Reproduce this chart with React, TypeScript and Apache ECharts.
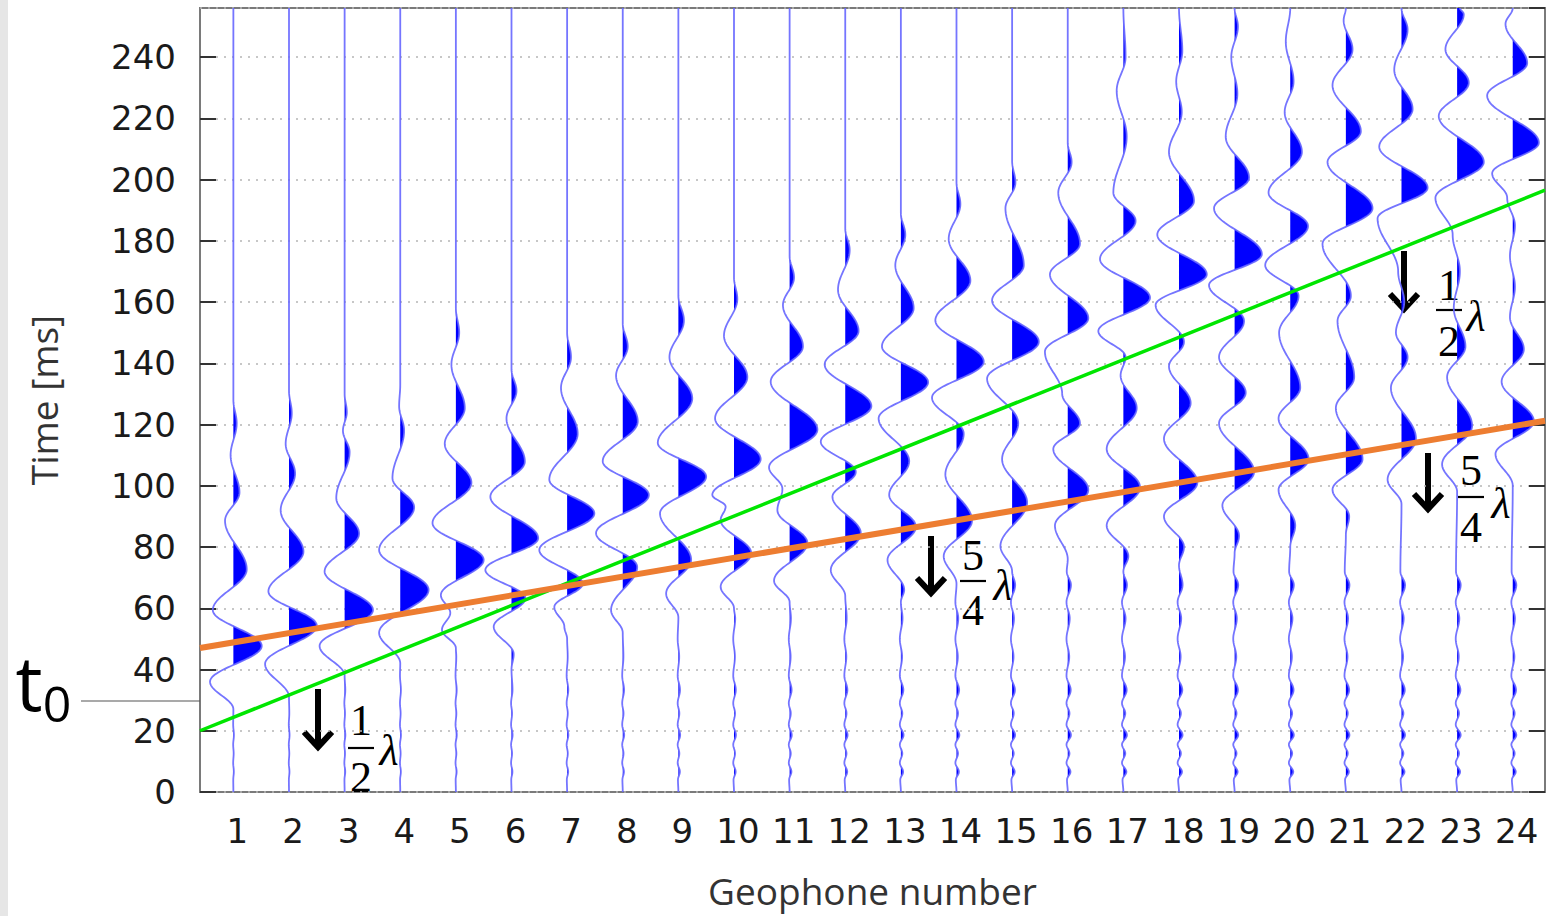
import React, { useEffect, useRef } from "react";
import * as echarts from "echarts";

// Geophone numbers (x axis)
const GEOPHONES = [1, 2, 3, 4, 5, 6, 7, 8, 9, 10, 11, 12, 13, 14, 15, 16, 17, 18, 19, 20, 21, 22, 23, 24];

// Wiggle traces: [time ms, deflection in geophone spacings] at the extrema
const T01 = [[27, 0], [36, -0.42], [47.7, 0.51], [59.4, -0.37], [72.7, 0.24], [88.6, -0.15], [97.8, 0.11], [110, -0.05], [120.4, 0.06], [128, 0]];
const T02 = [[31, 0], [41.8, -0.43], [54.3, 0.5], [65.5, -0.37], [78.5, 0.26], [92, -0.15], [104, 0.11], [113.7, -0.06], [123.7, 0.05], [131, 0]];
const T03 = [[38, 0], [47.7, -0.45], [59.4, 0.51], [72, -0.36], [84.4, 0.26], [96, -0.15], [111, 0.09], [118, -0.03], [124, 0.04], [130, 0]];
const T04 = [[42, 0], [52, -0.38], [66, 0.51], [79, -0.38], [93, 0.25], [102.5, -0.14], [118, 0.07], [126, -0.02], [133, 0]];
const T05 = [[47, 0], [53, -0.25], [58.5, -0.1], [64.3, -0.27], [75.8, 0.5], [87.8, -0.42], [101, 0.28], [113.7, -0.2], [125.4, 0.16], [139.6, -0.08], [150, 0.06], [158, 0]];
const T06 = [[40, 0], [45, 0.04], [54, -0.32], [63.3, 0.25], [72.5, -0.47], [82.9, 0.48], [96.4, -0.38], [107.9, 0.24], [122, -0.09], [131, 0.09], [138, 0]];
const T07 = [[50, 0], [54, -0.05], [60.4, -0.23], [68, 0.28], [79, -0.5], [91, 0.49], [102, -0.32], [117, 0.19], [132, -0.11], [142, 0.07], [150, 0]];
const T08 = [[52, 0], [59.4, -0.21], [73.5, 0.26], [84.5, -0.48], [97, 0.47], [108, -0.36], [121, 0.27], [136, -0.12], [145.5, 0.09], [153, 0]];
const T09 = [[57, 0], [64.8, -0.22], [75.8, 0.23], [91, -0.33], [103, 0.5], [114, -0.37], [128.5, 0.25], [142, -0.16], [154, 0.1], [162, 0]];
const T10 = [[60, 0], [67, -0.24], [78, 0.31], [88.8, -0.24], [93.2, -0.15], [97, -0.39], [108.7, 0.48], [122, -0.34], [135.5, 0.24], [149, -0.18], [161, 0.06], [168, 0]];
const T11 = [[62, 0], [69, -0.28], [81.3, 0.32], [92, -0.22], [99, -0.13], [106, -0.37], [118.3, 0.5], [134, -0.34], [145.5, 0.24], [159, -0.12], [168, 0.08], [175, 0]];
const T12 = [[64, 0], [72.5, -0.26], [84.5, 0.28], [96.4, -0.23], [104.5, 0.19], [114.4, -0.44], [126, 0.47], [139.6, -0.37], [150.5, 0.24], [164, -0.13], [177, 0.08], [184, 0]];
const T13 = [[62, 0], [66, 0.06], [75.8, -0.24], [86.6, 0.27], [97, -0.21], [108, 0.15], [122, -0.4], [133.8, 0.49], [145.5, -0.34], [158, 0.23], [172, -0.1], [182, 0.08], [189, 0]];
const T14 = [[68, 0], [77, -0.23], [88.6, 0.28], [103.7, -0.2], [117, 0.13], [128.8, -0.44], [140.5, 0.49], [154, -0.38], [167, 0.25], [180.6, -0.14], [192, 0.07], [199, 0]];
const T15 = [[72, 0], [80.3, -0.21], [94.5, 0.27], [108.7, -0.18], [120.4, 0.11], [135, -0.45], [147, 0.48], [160.5, -0.36], [172, 0.21], [190.6, -0.12], [199, 0.06], [206, 0]];
const T16 = [[76, 0], [87, -0.23], [98.7, 0.37], [112, -0.26], [120.4, 0.22], [130, -0.1], [143.8, -0.41], [154.7, 0.37], [169, -0.32], [179, 0.22], [195.7, -0.17], [205.7, 0.07], [212, 0]];
const T17 = [[72, 0], [77, 0.09], [87, -0.3], [99.5, 0.3], [112, -0.3], [125.4, 0.24], [136, -0.05], [142, 0.04], [150.5, -0.45], [161.4, 0.48], [174, -0.42], [186.5, 0.22], [195.7, -0.18], [214, 0.06], [229, -0.12], [240, 0.04], [256, 0]];
const T18 = [[74, 0], [80, 0.09], [90, -0.27], [101, 0.33], [115.4, -0.27], [127, 0.21], [139, -0.18], [147, 0.09], [159, -0.42], [169, 0.5], [182, -0.39], [193, 0.27], [209, -0.18], [222, 0.05], [232, -0.05], [242, 0.06], [256, 0]];
const T19 = [[78, 0], [83.6, 0.08], [93.6, -0.22], [104.5, 0.35], [120.4, -0.28], [130.4, 0.2], [142, -0.28], [153.8, 0.17], [165.5, -0.46], [175.6, 0.49], [190.6, -0.37], [200.6, 0.26], [214, -0.16], [228, 0.05], [240, -0.06], [250, 0.06], [256, 0]];
const T20 = [[80, 0], [87, 0.09], [98.7, -0.21], [108.7, 0.33], [122, -0.21], [132, 0.18], [150, -0.2], [162, 0.15], [172, -0.45], [184.8, 0.32], [195.7, -0.39], [209, 0.21], [222, -0.1], [232, 0.06], [245, -0.08], [256, 0]];
const T21 = [[84, 0], [90, 0.06], [98.7, -0.24], [108.7, 0.3], [125.4, -0.18], [135.5, 0.15], [153.8, -0.15], [162, 0.09], [179, -0.42], [190.6, 0.48], [205.7, -0.33], [215.7, 0.27], [230.8, -0.24], [242.5, 0.12], [252, -0.04], [256, 0]];
const T22 = [[94, 0], [102, -0.25], [115.4, 0.26], [132, -0.19], [142, 0.11], [150, -0.1], [160, 0.05], [170, -0.06], [187.3, -0.43], [197.3, 0.47], [210.7, -0.4], [223, 0.2], [235.8, -0.13], [249, 0.11], [256, 0]];
const T23 = [[98, 0], [107, -0.27], [119.6, 0.27], [135.5, -0.18], [145.5, 0.15], [158, -0.06], [170, 0.05], [182, -0.08], [194, -0.39], [205.7, 0.48], [220.7, -0.33], [231.6, 0.21], [242.5, -0.21], [254, 0.12], [256, 0.05]];
const T24 = [[100, 0], [110.4, -0.31], [121, 0.38], [134, -0.2], [144.6, 0.2], [155, -0.05], [165, 0.04], [175, -0.05], [185, 0.04], [194, -0.1], [202, -0.37], [212, 0.47], [227.4, -0.46], [238, 0.26], [250.8, -0.13], [256, 0]];

const TRACES = [T01, T02, T03, T04, T05, T06, T07, T08, T09, T10, T11, T12, T13, T14, T15, T16, T17, T18, T19, T20, T21, T22, T23, T24];

// Small spikes seen before the arrivals (same times on all traces), and how strong they are per trace
const NOISE = [[4, -0.015], [6.6, 0.055], [9.5, -0.025], [12.6, 0.035], [15.5, -0.025], [18.6, 0.065], [22, -0.025], [25.7, 0.035], [29, -0.025], [33.3, 0.06], [38, -0.025], [44.2, 0.03], [50, -0.025], [56.7, 0.04], [62, -0.025], [67.6, 0.065], [72, -0.02]];
const NOISE_SCALE = [0.15, 0.15, 0.2, 0.2, 0.25, 0.3, 0.35, 0.4, 0.5, 0.55, 0.6, 0.65, 0.75, 0.8, 0.85, 0.9, 1, 1, 1, 1, 1, 1, 1, 1];

// Fitted lines
const GREEN_LINE = [[0.4, 20], [24.58, 196.5]];
const ORANGE_LINE = [[0.4, 47], [24.58, 121.2]];

const T_MAX = 256;

function tracePoints(i: number): number[][] {
  const main = TRACES[i];
  const onset = main[0][0];
  const pts: number[][] = [[0, 0]];
  NOISE.forEach(([t, a]) => {
    if (t < onset - 2) pts.push([t, a * NOISE_SCALE[i]]);
  });
  main.forEach((p) => pts.push(p));
  if (pts[pts.length - 1][0] < T_MAX) pts.push([T_MAX, 0]);
  pts.sort((a, b) => a[0] - b[0]);
  return pts;
}

const TRACE_POINTS = TRACES.map((_, i) => tracePoints(i));

export default function App() {
  const ref = useRef<HTMLDivElement>(null);
  useEffect(() => {
    if (!ref.current) return;
    const chart = echarts.init(ref.current, null, { renderer: "svg" });

    const renderItem = (params: any, api: any) => {
      const i = params.dataIndex;
      const pts = TRACE_POINTS[i];
      const base = GEOPHONES[i];
      const curve: number[][] = [];
      const fill: number[][] = [];
      for (let k = 0; k < pts.length - 1; k++) {
        const [t1, a1] = pts[k];
        const [t2, a2] = pts[k + 1];
        const n = Math.max(2, Math.ceil((t2 - t1) / 0.4));
        for (let j = 0; j < n; j++) {
          const s = j / n;
          const w = (1 - Math.cos(Math.PI * s)) / 2;
          const a = a1 + (a2 - a1) * w;
          const t = t1 + (t2 - t1) * s;
          curve.push(api.coord([base + a, t]));
          fill.push(api.coord([base + Math.max(a, 0), t]));
        }
      }
      const last = pts[pts.length - 1];
      curve.push(api.coord([base + last[1], last[0]]));
      fill.push(api.coord([base + Math.max(last[1], 0), last[0]]));
      fill.push(api.coord([base, last[0]]));
      fill.push(api.coord([base, pts[0][0]]));
      return {
        type: "group",
        children: [
          { type: "polygon", shape: { points: fill }, style: { fill: "#0000ff", stroke: null }, silent: true },
          { type: "polyline", shape: { points: curve }, style: { stroke: "#6666ff", lineWidth: 1.8, fill: null, opacity: 0.9 }, silent: true },
        ],
      };
    };

    const arrow = (x: number, yTop: number, yTip: number) => [
      { type: "line", shape: { x1: x, y1: yTop, x2: x, y2: yTip - 4 }, style: { stroke: "#000", lineWidth: 6 } },
      { type: "polyline", shape: { points: [[x - 14, yTip - 18], [x, yTip - 3], [x + 14, yTip - 18]] }, style: { stroke: "#000", lineWidth: 6, fill: null, lineJoin: "miter" } },
    ];
    const serif = "'Liberation Serif', 'DejaVu Serif', serif";
    const frac = (x: number, num: string, den: string, yNum: number, yBar: number, yDen: number, xl: number, yl: number) => [
      { type: "text", x, y: yNum, style: { text: num, font: `44px ${serif}`, fill: "#000", align: "center", verticalAlign: "middle" } },
      { type: "line", shape: { x1: x - 13, y1: yBar, x2: x + 13, y2: yBar }, style: { stroke: "#000", lineWidth: 2.2 } },
      { type: "text", x, y: yDen, style: { text: den, font: `44px ${serif}`, fill: "#000", align: "center", verticalAlign: "middle" } },
      { type: "text", x: xl, y: yl, style: { text: "λ", font: `italic 44px ${serif}`, fill: "#000", align: "center", verticalAlign: "middle" } },
    ];

    chart.setOption({
      animation: false,
      backgroundColor: "#ffffff",
      grid: { left: 200, right: 3, top: 8, bottom: 124, show: true, borderColor: "#7a7a7a", borderWidth: 2, backgroundColor: "transparent" },
      xAxis: {
        type: "value",
        min: 0.4,
        max: 24.58,
        axisLine: { show: false },
        axisTick: { show: false },
        splitLine: { show: false },
        axisLabel: { customValues: GEOPHONES, fontSize: 34, color: "#1a1a1a", fontFamily: "DejaVu Sans", margin: 22, padding: [0, 0, 0, 8] },
        name: "Geophone number",
        nameLocation: "middle",
        nameGap: 80,
        nameTextStyle: { fontSize: 37, fontFamily: "Open Sans", color: "#333" },
      },
      yAxis: [
        {
          type: "value",
          min: 0,
          max: T_MAX,
          interval: 20,
          position: "left",
          axisLine: { show: false },
          axisTick: { inside: true, length: 16, lineStyle: { color: "#333", width: 2 } },
          axisLabel: { fontSize: 34, color: "#1a1a1a", fontFamily: "DejaVu Sans", margin: 24, showMaxLabel: false },
          splitLine: { show: true, lineStyle: { color: "#b5b5b5", width: 1.5, type: [2, 6] } },
          name: "Time [ms]",
          nameLocation: "middle",
          nameGap: 138,
          nameRotate: 90,
          nameTextStyle: { fontSize: 37, fontFamily: "Open Sans", color: "#333" },
        },
        {
          type: "value",
          min: 0,
          max: T_MAX,
          interval: 20,
          position: "right",
          axisLine: { show: false },
          axisTick: { inside: true, length: 16, lineStyle: { color: "#333", width: 2 } },
          axisLabel: { show: false },
          splitLine: { show: false },
        },
      ],
      series: [
        {
          type: "custom",
          name: "traces",
          clip: true,
          renderItem,
          data: GEOPHONES.map((g) => [g, T_MAX / 2]),
          encode: { x: 0, y: 1 },
          z: 2,
        },
        {
          type: "line",
          name: "green",
          data: GREEN_LINE,
          symbol: "none",
          lineStyle: { color: "#00e600", width: 3.5 },
          z: 5,
        },
        {
          type: "line",
          name: "orange",
          data: ORANGE_LINE,
          symbol: "none",
          lineStyle: { color: "#ed7d31", width: 6 },
          z: 6,
        },
      ],
      graphic: [
        { type: "rect", shape: { x: 0, y: 0, width: 8, height: 916 }, style: { fill: "#e6e6e6" }, z: 0 },
        { type: "line", shape: { x1: 81, y1: 701, x2: 200, y2: 701 }, style: { stroke: "#555", lineWidth: 1.2 } },
        { type: "text", x: 29, y: 681, style: { text: "t", font: "76px 'Open Sans'", fill: "#000", align: "center", verticalAlign: "middle" } },
        { type: "text", x: 57, y: 703, style: { text: "0", font: "50px 'Open Sans'", fill: "#000", align: "center", verticalAlign: "middle" } },
        ...arrow(318, 689, 750),
        ...frac(361, "1", "2", 720, 748, 777, 389, 750),
        ...arrow(931, 536, 596),
        ...frac(973, "5", "4", 555, 581, 610, 1003, 585),
        ...arrow(1404, 251, 312),
        ...frac(1449, "1", "2", 285, 310, 341, 1476, 316),
        ...arrow(1428, 453, 512),
        ...frac(1471, "5", "4", 470, 497, 527, 1501, 503),
      ],
    });
    return () => chart.dispose();
  }, []);
  return <div ref={ref} style={{ position: "absolute", left: 0, top: 0, width: 1548, height: 916, background: "#fff" }} />;
}
